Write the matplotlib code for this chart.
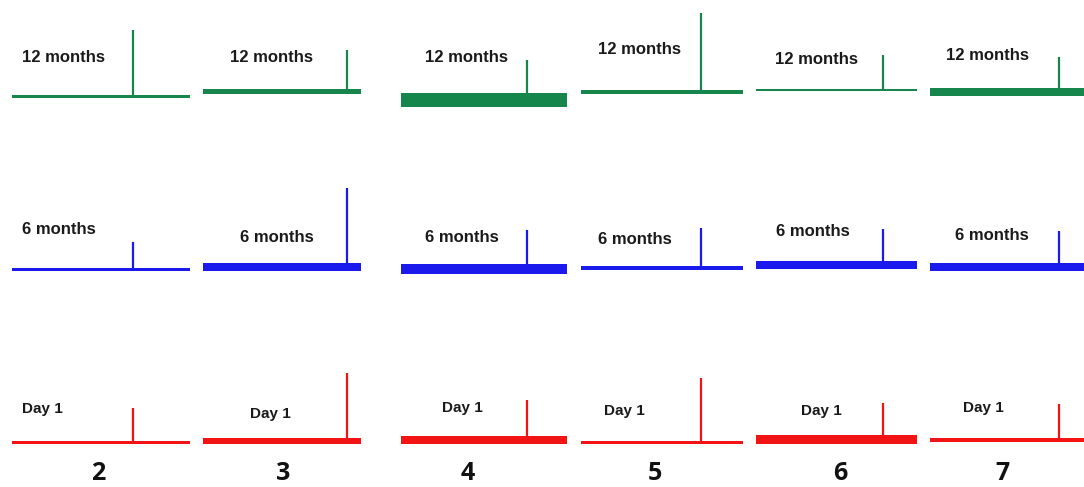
import matplotlib
matplotlib.use('Agg')
import matplotlib.pyplot as plt

W, H = 1084, 487

# ---- data ----
samples = ['2', '3', '4', '5', '6', '7']
periods = ['12 months', '6 months', 'Day 1']
colors = ['#17864c', '#1a1aec', '#f21414']

# spike time as fraction of the trace length (per sample)
spike_pos = [0.68, 0.91, 0.76, 0.74, 0.79, 0.84]

# spike amplitude (arb. units) per period / sample
spike_12m = [66, 41, 40, 79, 35, 35]
spike_6m = [27, 79, 39, 40, 36, 36]
spike_d1 = [35, 68, 40, 65, 36, 36]

# noise band amplitude (peak-to-peak) per period / sample
noise_12m = [3, 5, 14, 4, 2, 8]
noise_6m = [3, 8, 10, 4, 8, 8]
noise_d1 = [3, 6, 8, 3, 9, 4]

spikes = [spike_12m, spike_6m, spike_d1]
noises = [noise_12m, noise_6m, noise_d1]

# ---- layout (pixels) ----
col_left = [12, 203, 401, 581, 756, 930]
col_right = [190, 361, 567, 743, 917, 1084]
baselines = [[96, 91, 100, 92, 90, 92],
             [269, 267, 269, 268, 265, 267],
             [443, 441, 440, 443, 439, 440]]
label_xy = [[(22, 58), (230, 58), (425, 57), (598, 50), (775, 60), (946, 56)],
            [(22, 229), (240, 237), (425, 237), (598, 239), (776, 232), (955, 235)],
            [(22, 409), (250, 414), (442, 408), (604, 411), (801, 411), (963, 408)]]
label_size = [12, 12, 11]
num_x = [98, 283, 468, 655, 840, 1002]
num_y = 474

above, below = 85, 15

fig = plt.figure(figsize=(W / 100, H / 100), dpi=100)
fig.patch.set_facecolor('white')

for r in range(3):
    for c in range(6):
        x0, x1 = col_left[c], col_right[c]
        b = baselines[r][c]
        ax = fig.add_axes([x0 / W, 1 - (b + below) / H, (x1 - x0) / W, (above + below) / H])
        ax.set_xlim(0, 1)
        ax.set_ylim(-below, above)
        ax.axis('off')
        n = noises[r][c] / 2.0
        ax.fill_between([0, 1], [-n, -n], [n, n], color=colors[r], lw=0)
        ax.plot([0, 1], [0, 0], color=colors[r], lw=1.2)
        ax.vlines(spike_pos[c], 0, spikes[r][c], color=colors[r], lw=1.6)

        lx, ly = label_xy[r][c]
        fig.text(lx / W, 1 - ly / H, periods[r], fontsize=label_size[r],
                 fontweight='bold', family='Liberation Sans', color='#1a1a1a',
                 ha='left', va='center')

for c in range(6):
    fig.text(num_x[c] / W, 1 - num_y / H, samples[c], fontsize=18,
             fontweight='bold', family='Open Sans', color='#111111',
             ha='center', va='center')

fig.savefig('out.png', dpi=100, facecolor='white')
